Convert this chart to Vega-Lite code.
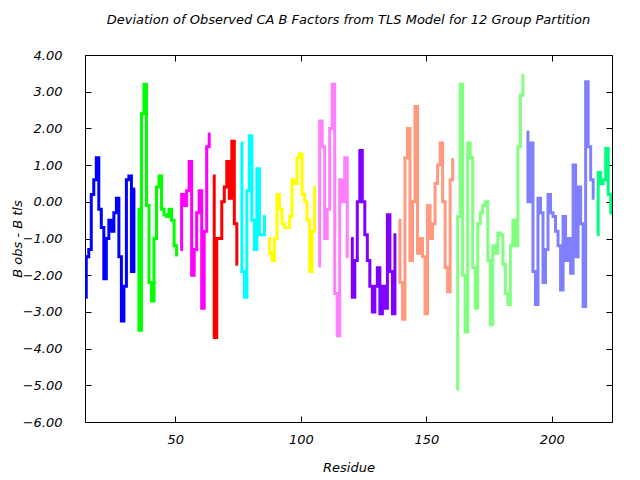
{
  "$schema": "https://vega.github.io/schema/vega-lite/v6.json",
  "width": 527,
  "height": 367,
  "autosize": {"type": "none"},
  "padding": {"left": 85, "top": 55, "right": 28, "bottom": 58},
  "background": "white",
  "title": {
    "text": "Deviation of Observed CA B Factors from TLS Model for 12 Group Partition",
    "font": "DejaVu Sans", "fontSize": 13, "fontStyle": "italic", "fontWeight": "normal",
    "color": "black", "offset": 22, "anchor": "middle"
  },
  "config": {
    "view": {"stroke": "black", "strokeWidth": 1},
    "axis": {
      "grid": false, "domain": false, "tickColor": "black", "tickSize": -6,
      "labelFont": "DejaVu Sans", "labelFontSize": 13, "labelFontStyle": "italic", "labelColor": "black",
      "titleFont": "DejaVu Sans", "titleFontSize": 13, "titleFontStyle": "italic", "titleFontWeight": "normal", "titleColor": "black"
    }
  },
  "resolve": {"axis": {"x": "independent", "y": "independent"}},
  "datasets": {
    "d": [
      {"r":14,"v":-2.6,"g":1},{"r":15,"v":-1.5,"g":1},{"r":16,"v":-1.3,"g":1},{"r":17,"v":0.2,"g":1},{"r":18,"v":0.6,"g":1},{"r":19,"v":1.2,"g":1},{"r":20,"v":-0.2,"g":1},{"r":21,"v":-0.7,"g":1},{"r":22,"v":-2.1,"g":1},{"r":23,"v":-1.0,"g":1},{"r":24,"v":-0.5,"g":1},{"r":25,"v":-0.8,"g":1},{"r":26,"v":-0.3,"g":1},{"r":27,"v":0.1,"g":1},{"r":28,"v":-1.5,"g":1},{"r":29,"v":-3.25,"g":1},{"r":30,"v":-2.3,"g":1},{"r":31,"v":0.6,"g":1},{"r":32,"v":0.7,"g":1},{"r":33,"v":-1.9,"g":1},{"r":34,"v":0.35,"g":1},
      {"r":35,"v":-0.2,"g":2},{"r":36,"v":-3.5,"g":2},{"r":37,"v":2.4,"g":2},{"r":38,"v":3.2,"g":2},{"r":39,"v":-0.1,"g":2},{"r":40,"v":-2.2,"g":2},{"r":41,"v":-2.7,"g":2},{"r":42,"v":-1.0,"g":2},{"r":43,"v":0.4,"g":2},{"r":44,"v":0.7,"g":2},{"r":45,"v":-0.2,"g":2},{"r":46,"v":-0.35,"g":2},{"r":47,"v":-0.4,"g":2},{"r":48,"v":-0.2,"g":2},{"r":49,"v":-0.5,"g":2},{"r":50,"v":-1.2,"g":2},{"r":51,"v":-1.45,"g":2},
      {"r":52,"v":-1.3,"g":3},{"r":53,"v":0.2,"g":3},{"r":54,"v":-0.1,"g":3},{"r":55,"v":0.3,"g":3},{"r":56,"v":1.1,"g":3},{"r":57,"v":-2.0,"g":3},{"r":58,"v":-1.3,"g":3},{"r":59,"v":-0.3,"g":3},{"r":60,"v":0.3,"g":3},{"r":61,"v":-2.9,"g":3},{"r":62,"v":-0.8,"g":3},{"r":63,"v":1.5,"g":3},{"r":64,"v":1.85,"g":3},
      {"r":65,"v":0.7,"g":4},{"r":66,"v":-3.7,"g":4},{"r":67,"v":-1.0,"g":4},{"r":68,"v":-1.0,"g":4},{"r":69,"v":0.0,"g":4},{"r":70,"v":0.4,"g":4},{"r":71,"v":1.1,"g":4},{"r":72,"v":0.1,"g":4},{"r":73,"v":1.65,"g":4},{"r":74,"v":-0.6,"g":4},{"r":75,"v":-1.7,"g":4},
      {"r":76,"v":1.6,"g":5},{"r":77,"v":-1.9,"g":5},{"r":78,"v":-2.6,"g":5},{"r":79,"v":0.3,"g":5},{"r":80,"v":1.8,"g":5},{"r":81,"v":-0.5,"g":5},{"r":82,"v":-1.3,"g":5},{"r":83,"v":0.9,"g":5},{"r":84,"v":-0.9,"g":5},{"r":85,"v":-0.9,"g":5},{"r":86,"v":-0.4,"g":5},
      {"r":87,"v":-1.0,"g":6},{"r":88,"v":-1.4,"g":6},{"r":89,"v":-1.6,"g":6},{"r":90,"v":-1.0,"g":6},{"r":91,"v":0.2,"g":6},{"r":92,"v":-0.2,"g":6},{"r":93,"v":-0.6,"g":6},{"r":94,"v":-0.7,"g":6},{"r":95,"v":-0.7,"g":6},{"r":96,"v":-0.4,"g":6},{"r":97,"v":0.6,"g":6},{"r":98,"v":0.5,"g":6},{"r":99,"v":1.2,"g":6},{"r":100,"v":1.3,"g":6},{"r":101,"v":0.2,"g":6},{"r":102,"v":0.0,"g":6},{"r":103,"v":-0.5,"g":6},{"r":104,"v":-1.9,"g":6},{"r":105,"v":-0.8,"g":6},{"r":106,"v":0.4,"g":6},
      {"r":107,"v":-1.75,"g":7},{"r":108,"v":2.2,"g":7},{"r":109,"v":1.5,"g":7},{"r":110,"v":-1.0,"g":7},{"r":111,"v":-0.2,"g":7},{"r":112,"v":2.0,"g":7},{"r":113,"v":3.2,"g":7},{"r":114,"v":-2.5,"g":7},{"r":115,"v":-3.65,"g":7},{"r":116,"v":0.6,"g":7},{"r":117,"v":0.0,"g":7},{"r":118,"v":1.2,"g":7},{"r":119,"v":-1.5,"g":7},
      {"r":120,"v":-1.0,"g":8},{"r":121,"v":-2.6,"g":8},{"r":122,"v":-1.6,"g":8},{"r":123,"v":0.0,"g":8},{"r":124,"v":1.4,"g":8},{"r":125,"v":0.0,"g":8},{"r":126,"v":-0.9,"g":8},{"r":127,"v":-1.6,"g":8},{"r":128,"v":-2.3,"g":8},{"r":129,"v":-3.0,"g":8},{"r":130,"v":-2.3,"g":8},{"r":131,"v":-1.8,"g":8},{"r":132,"v":-3.05,"g":8},{"r":133,"v":-2.3,"g":8},{"r":134,"v":-2.9,"g":8},{"r":135,"v":-0.35,"g":8},{"r":136,"v":-1.9,"g":8},{"r":137,"v":-3.05,"g":8},{"r":138,"v":-0.9,"g":8},
      {"r":139,"v":-0.5,"g":9},{"r":140,"v":-2.2,"g":9},{"r":141,"v":-3.2,"g":9},{"r":142,"v":1.2,"g":9},{"r":143,"v":2.0,"g":9},{"r":144,"v":-1.6,"g":9},{"r":145,"v":0.0,"g":9},{"r":146,"v":2.6,"g":9},{"r":147,"v":-1.4,"g":9},{"r":148,"v":-1.0,"g":9},{"r":149,"v":-1.5,"g":9},{"r":150,"v":-3.05,"g":9},{"r":151,"v":-0.1,"g":9},{"r":152,"v":-1.0,"g":9},{"r":153,"v":-0.6,"g":9},{"r":154,"v":0.5,"g":9},{"r":155,"v":1.0,"g":9},{"r":156,"v":1.6,"g":9},{"r":157,"v":0.0,"g":9},{"r":158,"v":-1.8,"g":9},{"r":159,"v":-2.45,"g":9},{"r":160,"v":0.6,"g":9},{"r":161,"v":1.15,"g":9},
      {"r":162,"v":-5.1,"g":10},{"r":163,"v":-0.4,"g":10},{"r":164,"v":3.2,"g":10},{"r":165,"v":-2.0,"g":10},{"r":166,"v":-3.55,"g":10},{"r":167,"v":1.6,"g":10},{"r":168,"v":1.2,"g":10},{"r":169,"v":-1.8,"g":10},{"r":170,"v":-2.9,"g":10},{"r":171,"v":-0.6,"g":10},{"r":172,"v":-0.3,"g":10},{"r":173,"v":-0.1,"g":10},{"r":174,"v":0.0,"g":10},{"r":175,"v":-1.6,"g":10},{"r":176,"v":-3.35,"g":10},{"r":177,"v":-1.2,"g":10},{"r":178,"v":-1.4,"g":10},{"r":179,"v":-0.85,"g":10},{"r":180,"v":-0.9,"g":10},{"r":181,"v":-1.7,"g":10},{"r":182,"v":-2.5,"g":10},{"r":183,"v":-2.8,"g":10},{"r":184,"v":-1.2,"g":10},{"r":185,"v":-0.5,"g":10},{"r":186,"v":-1.2,"g":10},{"r":187,"v":1.5,"g":10},{"r":188,"v":2.9,"g":10},{"r":189,"v":3.45,"g":10},
      {"r":190,"v":1.9,"g":11},{"r":191,"v":0.0,"g":11},{"r":192,"v":1.6,"g":11},{"r":193,"v":-1.9,"g":11},{"r":194,"v":-2.8,"g":11},{"r":195,"v":0.1,"g":11},{"r":196,"v":-0.3,"g":11},{"r":197,"v":-2.2,"g":11},{"r":198,"v":-1.3,"g":11},{"r":199,"v":0.2,"g":11},{"r":200,"v":-0.3,"g":11},{"r":201,"v":-0.4,"g":11},{"r":202,"v":-0.8,"g":11},{"r":203,"v":-1.2,"g":11},{"r":204,"v":-2.4,"g":11},{"r":205,"v":-0.4,"g":11},{"r":206,"v":-1.6,"g":11},{"r":207,"v":-1.0,"g":11},{"r":208,"v":-1.95,"g":11},{"r":209,"v":1.0,"g":11},{"r":210,"v":-1.5,"g":11},{"r":211,"v":0.4,"g":11},{"r":212,"v":-0.6,"g":11},{"r":213,"v":-2.85,"g":11},{"r":214,"v":3.27,"g":11},{"r":215,"v":1.5,"g":11},{"r":216,"v":0.6,"g":11},{"r":217,"v":0.1,"g":11},
      {"r":218,"v":-0.9,"g":12},{"r":219,"v":0.8,"g":12},{"r":220,"v":0.5,"g":12},{"r":221,"v":0.6,"g":12},{"r":222,"v":1.45,"g":12},{"r":223,"v":0.2,"g":12},{"r":224,"v":-0.3,"g":12}
    ]
  },
  "layer": [
    {
      "mark": {"type": "rule", "color": "black", "strokeWidth": 1},
      "encoding": {
        "x": {"datum": 14, "type": "quantitative", "scale": {"domain": [14, 224], "nice": false, "zero": false},
              "axis": {"orient": "top", "values": [50, 100, 150, 200], "labels": false, "title": null}},
        "x2": {"datum": 224},
        "y": {"datum": 0, "type": "quantitative", "scale": {"domain": [-6, 4], "nice": false},
              "axis": {"orient": "right", "values": [-6,-5,-4,-3,-2,-1,0,1,2,3,4], "labels": false, "title": null}}
      }
    },
    {
      "data": {"name": "d"},
      "mark": {"type": "line", "strokeWidth": 3, "interpolate": "step", "clip": true},
      "encoding": {
        "x": {"field": "r", "type": "quantitative", "scale": {"domain": [14, 224], "nice": false, "zero": false},
              "axis": {"orient": "bottom", "values": [50, 100, 150, 200], "title": "Residue", "labelPadding": 17, "titleY": 45, "titleBaseline": "middle"}},
        "y": {"field": "v", "type": "quantitative", "scale": {"domain": [-6, 4], "nice": false},
              "axis": {"orient": "left", "values": [-6,-5,-4,-3,-2,-1,0,1,2,3,4], "format": ".2f", "title": "B obs - B tls", "labelPadding": 29, "titleX": -68, "titleY": 183.5, "titleAlign": "center", "titleBaseline": "middle"}},
        "color": {"field": "g", "type": "nominal", "legend": null,
                  "scale": {"domain": [1,2,3,4,5,6,7,8,9,10,11,12],
                            "range": ["#0000ff","#00ff00","#ff00ff","#ff0000","#00ffff","#ffff00","#ff80ff","#8000ff","#ff9980","#80ff80","#8080ff","#00ff80"]}}
      }
    }
  ]
}
